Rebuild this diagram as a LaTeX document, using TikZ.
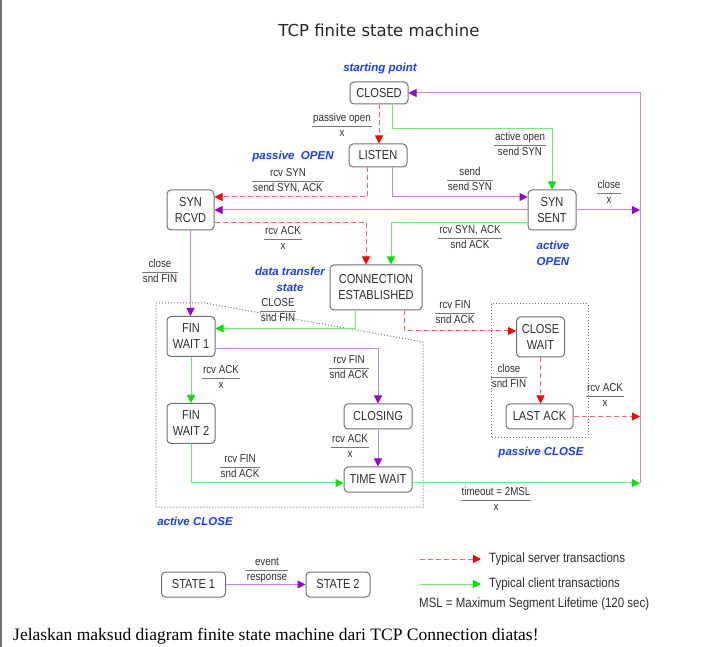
\documentclass[tikz,border=0pt]{standalone}
\usepackage{fontspec}
\setmainfont{Liberation Sans}[FakeStretch=0.85]
\newfontfamily\titlefont{DejaVu Sans}
\newfontfamily\notefont{Liberation Sans}
\newfontfamily\quesfont{Liberation Serif}
\usepackage{colortbl}
\usetikzlibrary{arrows.meta,positioning}

\definecolor{boxgray}{RGB}{112,112,112}
\definecolor{textgray}{RGB}{45,45,45}
\definecolor{rulegray}{RGB}{120,120,120}
\definecolor{noteblue}{RGB}{25,60,250}
\definecolor{purpline}{RGB}{200,130,235}
\definecolor{purphead}{RGB}{150,0,205}
\definecolor{redline}{RGB}{255,100,100}
\definecolor{redhead}{RGB}{255,0,0}
\definecolor{greenline}{RGB}{110,240,110}
\definecolor{greenhead}{RGB}{0,230,0}

\arrayrulecolor{rulegray}
\setlength{\arrayrulewidth}{0.9pt}
\newcommand{\ev}[2]{\begin{tabular}{@{\hspace{1pt}}c@{\hspace{1pt}}}#1\\\hline #2\end{tabular}}

\tikzset{
	state/.style={draw=boxgray, line width=1pt, rounded corners=4pt, inner sep=0pt,
		align=center, text=textgray, font=\fontsize{13}{16}\selectfont},
	onerow/.style={minimum width=68pt, minimum height=25pt},
	tworow/.style={minimum width=48pt, minimum height=40pt},
	evlabel/.style={inner sep=0pt, text=textgray, font=\fontsize{11.5}{14}\selectfont},
	note/.style={align=center, text=noteblue, inner sep=0pt,
		font=\notefont\fontsize{11.5}{16}\selectfont\bfseries\itshape},
	legend/.style={inner sep=0pt, text=textgray, font=\fontsize{13.5}{16}\selectfont},
	trans/.style={draw=purpline, line width=1pt, -{Triangle[length=8pt,width=8pt,color=purphead]}},
	server/.style={draw=redline, line width=1pt, dash pattern=on 5pt off 3pt,
		-{Triangle[length=8pt,width=8pt,color=redhead]}},
	client/.style={draw=greenline, line width=1pt, -{Triangle[length=8pt,width=8pt,color=greenhead]}},
	region/.style={draw=boxgray, line width=1pt, dash pattern=on 1pt off 2pt}
}

\begin{document}
\begin{tikzpicture}[x=1pt, y=-1pt]
	\useasboundingbox (0,0) rectangle (724,647);
	\draw[draw=boxgray, line width=1.5pt] (0.75,0) -- (0.75,647);
	\node[font=\titlefont\fontsize{16.5}{19}\selectfont, text=black!85] (title) at (379,30) {TCP finite state machine};
	% Bereiche
	\draw[region] (156,303) -- (205,303) -- (423,342) -- (423,507) -- (156,507) -- cycle;
	\draw[region] (491,304) rectangle (588,438);
	% Zustaende
	\node[state, minimum width=58pt, minimum height=22pt] (closed) at (379,93) {CLOSED};
	\node[state, minimum width=58pt, minimum height=23pt] (listen) at (378,155.5) {LISTEN};
	\node[state, tworow, minimum width=47pt] (synrcvd) at (190.5,210) {SYN\\RCVD};
	\node[state, tworow] (synsent) at (552,210) {SYN\\SENT};
	\node[state, minimum width=92pt, minimum height=45pt] (estab) at (376,287.5) {CONNECTION\\ESTABLISHED};
	\node[state, tworow] (finwait1) at (191,336.5) {FIN\\WAIT 1};
	\node[state, tworow] (finwait2) at (191,423.5) {FIN\\WAIT 2};
	\node[state, onerow] (closing) at (378,416.5) {CLOSING};
	\node[state, onerow] (timewait) at (378,479.5) {TIME WAIT};
	\node[state, tworow] (closewait) at (540.5,337) {CLOSE\\WAIT};
	\node[state, onerow, minimum width=67pt] (lastack) at (539.5,416.5) {LAST ACK};
	\coordinate (rtop) at (640,93);
	\coordinate (rbot) at (640,483);
	% Uebergaenge
	\draw[server] (closed.south) -- (closed.south |- listen.north);
	\draw[client] ([xshift=13pt]closed.south) -- ++(0,24) -| (synsent.north);
	\draw[trans] ([xshift=14pt]listen.south) |- ([yshift=13pt]synsent.west);
	\draw[server] ([xshift=-11pt]listen.south) |- ([yshift=13pt]synrcvd.east);
	\draw[trans] (synsent.west) -- (synrcvd.east);
	\draw[server] ([yshift=-13pt]synrcvd.east) -| ([xshift=-10pt]estab.north);
	\draw[client] ([yshift=-13pt]synsent.west) -| ([xshift=15pt]estab.north);
	\draw[trans] (synrcvd.south) -- (synrcvd.south |- finwait1.north);
	\draw[client] ([xshift=-21pt]estab.south) |- ([yshift=8pt]finwait1.east);
	\draw[server] ([xshift=28pt]estab.south) |- ([yshift=6pt]closewait.west);
	\draw[trans] ([yshift=-12pt]finwait1.east) -| (closing.north);
	\draw[client] (finwait1.south) -- (finwait2.north);
	\draw[trans] (closing.south) -- (timewait.north);
	\draw[client] (finwait2.south) |- ([yshift=-3.5pt]timewait.west);
	\draw[server] (closewait.south) -- (closewait.south |- lastack.north);
	\draw[trans] (synsent.east) -- (synsent.east -| rtop);
	\draw[server] (lastack.east) -- (lastack.east -| rtop);
	\draw[client] ([yshift=-3.5pt]timewait.east) -- (rbot);
	\draw[trans] (rbot) -- (rtop) -- (closed.east);
	% Beschriftungen
	\node[evlabel] (lPassOpen) at (342,126.5) {\ev{passive open}{x}};
	\node[evlabel] (lActOpen) at (520,145.5) {\ev{active open}{send SYN}};
	\node[evlabel] (lSend) at (470,180.5) {\ev{send}{send SYN}};
	\node[evlabel] (lRcvSyn) at (288,181.5) {\ev{rcv SYN}{send SYN, ACK}};
	\node[evlabel] (lCloseS) at (609,193.5) {\ev{close}{x}};
	\node[evlabel] (lRcvAck) at (283,239.5) {\ev{rcv ACK}{x}};
	\node[evlabel] (lRcvSynAck) at (470,238.5) {\ev{rcv SYN, ACK}{snd ACK}};
	\node[evlabel] (lClose) at (160,272.5) {\ev{close}{snd FIN}};
	\node[evlabel] (lCLOSE) at (278,311.5) {\ev{CLOSE}{snd FIN}};
	\node[evlabel] (lRcvFin) at (455,313.5) {\ev{rcv FIN}{snd ACK}};
	\node[evlabel] (lRcvFinA) at (349,368.5) {\ev{rcv FIN}{snd ACK}};
	\node[evlabel] (lRcvAckA) at (221,378.5) {\ev{rcv ACK}{x}};
	\node[evlabel] (lClosePas) at (509,377.5) {\ev{close}{snd FIN}};
	\node[evlabel] (lRcvAckPas) at (605,396.5) {\ev{rcv ACK}{x}};
	\node[evlabel] (lRcvAckB) at (350,447.5) {\ev{rcv ACK}{x}};
	\node[evlabel] (lRcvFinB) at (240,467.5) {\ev{rcv FIN}{snd ACK}};
	\node[evlabel] (lTimeout) at (496,500.5) {\ev{timeout = 2MSL}{x}};
	\node[note] (nStart) at (380,69) {starting point};
	\node[note] (nPassOpen) at (293,157) {passive\ \ OPEN};
	\node[note] (nActOpen) at (553,253) {active\\OPEN};
	\node[note] (nData) at (290,279) {data transfer\\state};
	\node[note] (nActClose) at (195,521) {active CLOSE};
	\node[note] (nPassClose) at (541,453) {passive CLOSE};
	% Legende
	\node[state, minimum width=64pt, minimum height=25pt] (stateA) at (193.5,584.5) {STATE 1};
	\node[state, minimum width=64pt, minimum height=25pt] (stateB) at (338,584.5) {STATE 2};
	\draw[trans] (stateA) -- (stateB);
	\node[evlabel] (lEvent) at (267,570.5) {\ev{event}{response}};
	\coordinate (srvA) at (420,559);
	\coordinate (srvB) at (481,559);
	\coordinate (cliA) at (420,584);
	\coordinate (cliB) at (481,584);
	\draw[server] (srvA) -- (srvB);
	\draw[client] (cliA) -- (cliB);
	\node[legend, anchor=west] (srvText) at (489,559) {Typical server transactions};
	\node[legend, anchor=west] (cliText) at (489,584) {Typical client transactions};
	\node[legend, anchor=west] (mslText) at (419,604) {MSL = Maximum Segment Lifetime (120 sec)};
	\node[anchor=west, inner sep=0pt, font=\quesfont\fontsize{17.5}{20}\selectfont] (question) at (13,636) {Jelaskan maksud diagram finite state machine dari TCP Connection diatas!};
\end{tikzpicture}
\end{document}
